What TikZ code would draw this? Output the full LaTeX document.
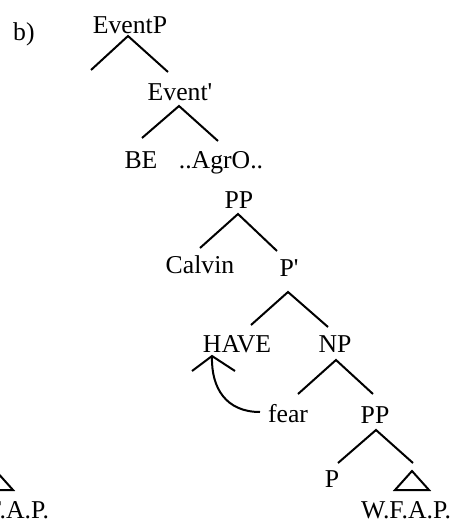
\documentclass[tikz,border=0pt]{standalone}
\usepackage{fontspec}
\font\lblfont="Liberation Serif" at 25.7pt
\begin{document}
\begin{tikzpicture}[x=1pt,y=-1pt,
  lbl/.style={anchor=base,inner sep=0pt,font=\lblfont},
  br/.style={line width=2pt},
  arc/.style={line width=2pt}]
\useasboundingbox (0,0) rectangle (459,522);
% labels
\node[lbl,anchor=base west] (b) at (13,40) {b)};
\node[lbl] (EventP) at (130,33) {EventP};
\node[lbl] (Eventbar) at (180,100) {Event'};
\node[lbl] (BE) at (141,168) {BE};
\node[lbl] (AgrO) at (221,168) {..AgrO..};
\node[lbl] (PP) at (239,208) {PP};
\node[lbl] (Calvin) at (200,273) {Calvin};
\node[lbl] (Pbar) at (289,276) {P'};
\node[lbl] (HAVE) at (237,352) {HAVE};
\node[lbl] (NP) at (335,352) {NP};
\node[lbl] (fear) at (288,422) {fear};
\node[lbl] (PPb) at (375,423) {PP};
\node[lbl] (P) at (332,487) {P};
\node[lbl] (WFAP) at (406,518) {W.F.A.P.};
\node[lbl] (WFAPl) at (4,518) {W.F.A.P.};
% branch points
\coordinate (e1) at (128,36); \coordinate (e1l) at (91,70);
\coordinate (e1r) at (168,72);
\coordinate (e2) at (179,106); \coordinate (e2l) at (142,138);
\coordinate (e2r) at (218,141);
\coordinate (p1) at (238,214); \coordinate (p1l) at (200,248);
\coordinate (p1r) at (277,251);
\coordinate (p2) at (288,292); \coordinate (p2l) at (251,325);
\coordinate (p2r) at (328,327);
\coordinate (h) at (212,356); \coordinate (hl) at (192,371);
\coordinate (hr) at (235,371);
\coordinate (n1) at (336,360); \coordinate (n1l) at (298,394);
\coordinate (n1r) at (373,394);
\coordinate (q1) at (376,430); \coordinate (q1l) at (338,463);
\coordinate (q1r) at (413,463);
\coordinate (t1) at (412,471); \coordinate (t1l) at (395,490);
\coordinate (t1r) at (429,490);
\coordinate (t2) at (-4,471); \coordinate (t2l) at (-21,490);
\coordinate (t2r) at (13,490);
\coordinate (fe) at (260,412);
% branches
\draw[br] (e1l) -- (e1) -- (e1r);
\draw[br] (e2l) -- (e2) -- (e2r);
\draw[br] (p1l) -- (p1) -- (p1r);
\draw[br] (p2l) -- (p2) -- (p2r);
\draw[br] (hl) -- (h) -- (hr);
\draw[br] (n1l) -- (n1) -- (n1r);
\draw[br] (q1l) -- (q1) -- (q1r);
\draw[br] (t1) -- (t1l) -- (t1r) -- cycle;
\draw[br] (t2) -- (t2l) -- (t2r) -- cycle;
% movement arc
\draw[arc] (fe) .. controls (226,412) and (211,388) .. (h);
\end{tikzpicture}
\end{document}
